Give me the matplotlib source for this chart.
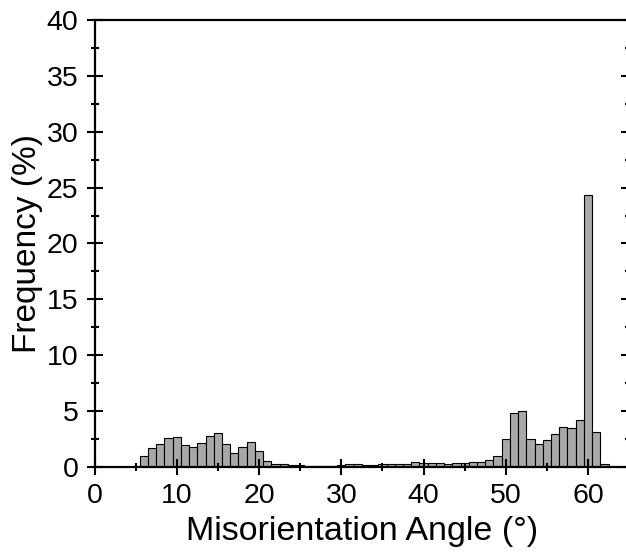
import numpy as np
import matplotlib.pyplot as plt
from matplotlib.ticker import MultipleLocator

plt.rcParams['font.family'] = ['Liberation Sans', 'DejaVu Sans']

# misorientation angle bins (1 degree, centred on integers) and frequency in %
angles = np.arange(6, 63)
freq = [1.0, 1.7, 2.05, 2.6, 2.65, 1.95, 1.75, 2.1, 2.75, 3.0,
        2.0, 1.25, 1.75, 2.2, 1.4, 0.5, 0.28, 0.2, 0.15, 0.12,
        0.1, 0.1, 0.08, 0.08, 0.15, 0.2, 0.2, 0.15, 0.12, 0.2,
        0.2, 0.2, 0.22, 0.42, 0.32, 0.3, 0.3, 0.2, 0.35, 0.32,
        0.4, 0.42, 0.62, 1.0, 2.45, 4.8, 4.95, 2.48, 2.06, 2.39,
        2.95, 3.55, 3.43, 4.15, 24.3, 3.1, 0.22]

fig = plt.figure(figsize=(6.26, 5.54), dpi=100)
ax = fig.add_axes([0.151, 0.1576, 0.854, 0.806])

ax.bar(angles, freq, width=1.0, color='#a8a8a8', edgecolor='black', linewidth=0.8)

ax.set_xlim(0, 65)
ax.set_ylim(0, 40)
ax.xaxis.set_major_locator(MultipleLocator(10))
ax.xaxis.set_minor_locator(MultipleLocator(5))
ax.yaxis.set_major_locator(MultipleLocator(5))
ax.yaxis.set_minor_locator(MultipleLocator(2.5))

for s in ax.spines.values():
    s.set_linewidth(1.6)

ax.tick_params(which='major', direction='inout', length=11, width=1.5, labelsize=20.5,
               right=True, top=False, pad=6)
ax.tick_params(which='minor', direction='inout', length=6, width=1.5,
               right=True, top=False)

ax.set_xlabel('Misorientation Angle (°)', fontsize=24.5, labelpad=5)
ax.set_ylabel('Frequency (%)', fontsize=24, labelpad=3)

fig.savefig('out.png', dpi=100)
